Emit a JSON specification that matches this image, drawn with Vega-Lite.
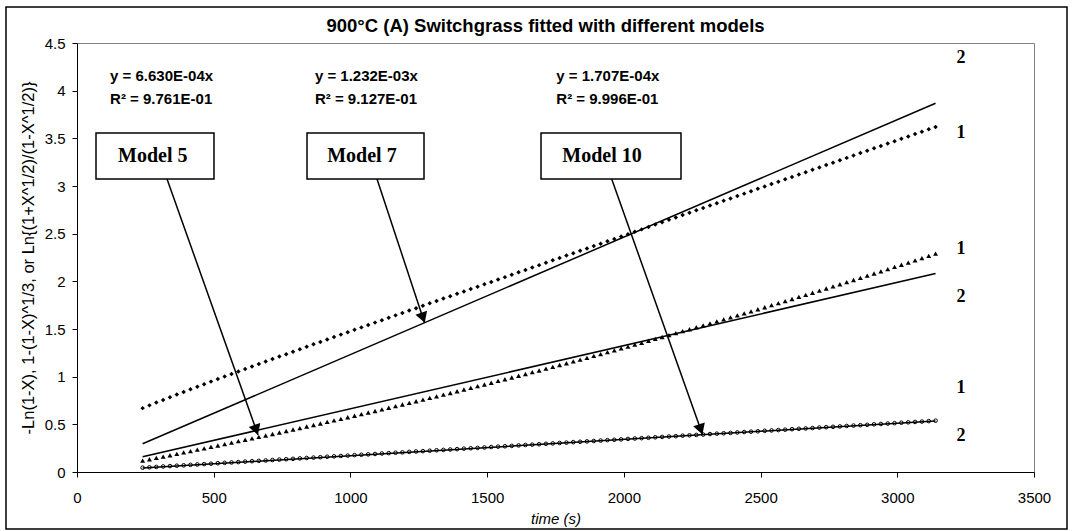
{
  "$schema": "https://vega.github.io/schema/vega-lite/v6.json",
  "width": 957,
  "height": 429,
  "autosize": {"type": "none"},
  "padding": {"left": 77, "top": 43, "right": 39, "bottom": 59},
  "background": "white",
  "title": {"text": "900°C (A) Switchgrass fitted with different models", "font": "Liberation Sans", "fontSize": 18.5, "fontWeight": "bold", "color": "black", "anchor": "middle", "offset": 7, "dx": -10, "dy": 36},
  "config": {
    "view": {"stroke": "#808080", "strokeWidth": 1},
    "axis": {"labelFont": "Liberation Sans", "labelFontSize": 15, "labelColor": "black", "domainColor": "black", "tickColor": "black", "titleFont": "Liberation Sans", "titleFontSize": 15, "titleFontWeight": "normal", "titleColor": "black", "grid": false, "domainWidth": 1, "tickWidth": 1, "tickSize": 5, "labelFlush": false}
  },
  "datasets": {
    "pts": [
      {"x":240,"a":0.670,"b":0.120,"c":0.045},{"x":265,"a":0.699,"b":0.134,"c":0.049},{"x":290,"a":0.728,"b":0.148,"c":0.053},{"x":315,"a":0.756,"b":0.162,"c":0.058},{"x":340,"a":0.784,"b":0.176,"c":0.062},{"x":365,"a":0.812,"b":0.190,"c":0.066},{"x":390,"a":0.840,"b":0.205,"c":0.070},{"x":415,"a":0.867,"b":0.219,"c":0.075},{"x":440,"a":0.894,"b":0.234,"c":0.079},{"x":465,"a":0.921,"b":0.248,"c":0.083},
      {"x":490,"a":0.948,"b":0.263,"c":0.087},{"x":515,"a":0.975,"b":0.278,"c":0.092},{"x":540,"a":1.002,"b":0.293,"c":0.096},{"x":565,"a":1.028,"b":0.308,"c":0.100},{"x":590,"a":1.054,"b":0.323,"c":0.104},{"x":615,"a":1.081,"b":0.338,"c":0.109},{"x":640,"a":1.107,"b":0.353,"c":0.113},{"x":665,"a":1.133,"b":0.368,"c":0.117},{"x":690,"a":1.159,"b":0.383,"c":0.121},{"x":715,"a":1.185,"b":0.399,"c":0.126},
      {"x":740,"a":1.211,"b":0.414,"c":0.130},{"x":765,"a":1.236,"b":0.430,"c":0.134},{"x":790,"a":1.262,"b":0.446,"c":0.138},{"x":815,"a":1.288,"b":0.461,"c":0.143},{"x":840,"a":1.313,"b":0.477,"c":0.147},{"x":865,"a":1.339,"b":0.493,"c":0.151},{"x":890,"a":1.364,"b":0.509,"c":0.155},{"x":915,"a":1.390,"b":0.525,"c":0.160},{"x":940,"a":1.415,"b":0.541,"c":0.164},{"x":965,"a":1.441,"b":0.558,"c":0.168},
      {"x":990,"a":1.466,"b":0.574,"c":0.172},{"x":1015,"a":1.491,"b":0.590,"c":0.177},{"x":1040,"a":1.517,"b":0.607,"c":0.181},{"x":1065,"a":1.542,"b":0.624,"c":0.185},{"x":1090,"a":1.567,"b":0.640,"c":0.189},{"x":1115,"a":1.592,"b":0.657,"c":0.194},{"x":1140,"a":1.618,"b":0.674,"c":0.198},{"x":1165,"a":1.643,"b":0.691,"c":0.202},{"x":1190,"a":1.668,"b":0.708,"c":0.206},{"x":1215,"a":1.693,"b":0.725,"c":0.211},
      {"x":1240,"a":1.718,"b":0.742,"c":0.215},{"x":1265,"a":1.743,"b":0.759,"c":0.219},{"x":1290,"a":1.769,"b":0.777,"c":0.223},{"x":1315,"a":1.794,"b":0.794,"c":0.228},{"x":1340,"a":1.819,"b":0.812,"c":0.232},{"x":1365,"a":1.844,"b":0.829,"c":0.236},{"x":1390,"a":1.869,"b":0.847,"c":0.240},{"x":1415,"a":1.894,"b":0.865,"c":0.245},{"x":1440,"a":1.919,"b":0.882,"c":0.249},{"x":1465,"a":1.944,"b":0.900,"c":0.253},
      {"x":1490,"a":1.969,"b":0.918,"c":0.257},{"x":1515,"a":1.994,"b":0.936,"c":0.262},{"x":1540,"a":2.019,"b":0.955,"c":0.266},{"x":1565,"a":2.044,"b":0.973,"c":0.270},{"x":1590,"a":2.069,"b":0.991,"c":0.274},{"x":1615,"a":2.095,"b":1.010,"c":0.279},{"x":1640,"a":2.120,"b":1.028,"c":0.283},{"x":1665,"a":2.145,"b":1.047,"c":0.287},{"x":1690,"a":2.170,"b":1.065,"c":0.291},{"x":1715,"a":2.195,"b":1.084,"c":0.296},
      {"x":1740,"a":2.220,"b":1.103,"c":0.300},{"x":1765,"a":2.245,"b":1.122,"c":0.304},{"x":1790,"a":2.270,"b":1.141,"c":0.308},{"x":1815,"a":2.295,"b":1.160,"c":0.313},{"x":1840,"a":2.320,"b":1.179,"c":0.317},{"x":1865,"a":2.345,"b":1.198,"c":0.321},{"x":1890,"a":2.370,"b":1.218,"c":0.325},{"x":1915,"a":2.395,"b":1.237,"c":0.330},{"x":1940,"a":2.420,"b":1.257,"c":0.334},{"x":1965,"a":2.445,"b":1.276,"c":0.338},
      {"x":1990,"a":2.470,"b":1.296,"c":0.342},{"x":2015,"a":2.495,"b":1.316,"c":0.347},{"x":2040,"a":2.520,"b":1.336,"c":0.351},{"x":2065,"a":2.545,"b":1.355,"c":0.355},{"x":2090,"a":2.570,"b":1.375,"c":0.359},{"x":2115,"a":2.595,"b":1.396,"c":0.364},{"x":2140,"a":2.620,"b":1.416,"c":0.368},{"x":2165,"a":2.645,"b":1.436,"c":0.372},{"x":2190,"a":2.670,"b":1.456,"c":0.376},{"x":2215,"a":2.695,"b":1.477,"c":0.381},
      {"x":2240,"a":2.720,"b":1.497,"c":0.385},{"x":2265,"a":2.745,"b":1.518,"c":0.389},{"x":2290,"a":2.770,"b":1.538,"c":0.393},{"x":2315,"a":2.795,"b":1.559,"c":0.398},{"x":2340,"a":2.820,"b":1.580,"c":0.402},{"x":2365,"a":2.845,"b":1.601,"c":0.406},{"x":2390,"a":2.870,"b":1.622,"c":0.410},{"x":2415,"a":2.895,"b":1.643,"c":0.415},{"x":2440,"a":2.920,"b":1.664,"c":0.419},{"x":2465,"a":2.945,"b":1.685,"c":0.423},
      {"x":2490,"a":2.970,"b":1.707,"c":0.427},{"x":2515,"a":2.995,"b":1.728,"c":0.432},{"x":2540,"a":3.020,"b":1.750,"c":0.436},{"x":2565,"a":3.045,"b":1.771,"c":0.440},{"x":2590,"a":3.070,"b":1.793,"c":0.444},{"x":2615,"a":3.095,"b":1.815,"c":0.449},{"x":2640,"a":3.120,"b":1.837,"c":0.453},{"x":2665,"a":3.145,"b":1.858,"c":0.457},{"x":2690,"a":3.170,"b":1.880,"c":0.461},{"x":2715,"a":3.195,"b":1.903,"c":0.466},
      {"x":2740,"a":3.220,"b":1.925,"c":0.470},{"x":2765,"a":3.245,"b":1.947,"c":0.474},{"x":2790,"a":3.270,"b":1.969,"c":0.478},{"x":2815,"a":3.295,"b":1.992,"c":0.483},{"x":2840,"a":3.320,"b":2.014,"c":0.487},{"x":2865,"a":3.345,"b":2.037,"c":0.491},{"x":2890,"a":3.370,"b":2.059,"c":0.495},{"x":2915,"a":3.395,"b":2.082,"c":0.500},{"x":2940,"a":3.420,"b":2.105,"c":0.504},{"x":2965,"a":3.445,"b":2.128,"c":0.508},
      {"x":2990,"a":3.470,"b":2.151,"c":0.512},{"x":3015,"a":3.495,"b":2.174,"c":0.517},{"x":3040,"a":3.520,"b":2.197,"c":0.521},{"x":3065,"a":3.545,"b":2.220,"c":0.525},{"x":3090,"a":3.570,"b":2.244,"c":0.529},{"x":3115,"a":3.595,"b":2.267,"c":0.534},{"x":3140,"a":3.620,"b":2.291,"c":0.538}
    ]
  },
  "encoding": {
    "x": {"field": "x", "type": "quantitative", "scale": {"domain": [0, 3500], "nice": false, "zero": false},
      "axis": {"values": [0, 500, 1000, 1500, 2000, 2500, 3000, 3500], "format": "d", "title": "time (s)", "titleFontStyle": "italic", "titleBaseline": "middle", "titleX": 478.5, "titleY": 46, "labelPadding": 13}},
    "y": {"field": "y", "type": "quantitative", "scale": {"domain": [0, 4.5], "nice": false, "zero": false},
      "axis": {"values": [0, 0.5, 1, 1.5, 2, 2.5, 3, 3.5, 4, 4.5], "format": "~g", "title": "-Ln(1-X), 1-(1-X)^1/3, or Ln{(1+X^1/2)/(1-X^1/2)}", "titleFontSize": 16.5, "titleAngle": -90, "titleBaseline": "middle", "titleAlign": "center", "titleX": -49, "titleY": 214.5, "labelPadding": 7}}
  },
  "layer": [
    {
      "data": {"values": [{"x": -259.7, "y": 4.878, "x2": 3620.7, "y2": -0.598}]},
      "mark": {"type": "rect", "filled": false, "stroke": "black", "strokeWidth": 1.5},
      "encoding": {"x2": {"field": "x2"}, "y2": {"field": "y2"}}
    },
    {
      "data": {"name": "pts"},
      "transform": [{"fold": ["a"], "as": ["s", "y"]}],
      "mark": {"type": "point", "shape": "diamond", "filled": true, "color": "black", "opacity": 1, "size": 20}
    },
    {
      "data": {"name": "pts"},
      "transform": [{"fold": ["b"], "as": ["s", "y"]}],
      "mark": {"type": "point", "shape": "triangle-up", "filled": true, "color": "black", "opacity": 1, "size": 25}
    },
    {
      "data": {"name": "pts"},
      "transform": [{"fold": ["c"], "as": ["s", "y"]}],
      "mark": {"type": "point", "shape": "circle", "filled": true, "fill": "white", "stroke": "black", "strokeWidth": 1, "opacity": 1, "size": 13}
    },
    {
      "data": {"values": [
        {"x": 240, "m": "5", "y": 0.159}, {"x": 3140, "m": "5", "y": 2.082},
        {"x": 240, "m": "7", "y": 0.296}, {"x": 3140, "m": "7", "y": 3.868},
        {"x": 240, "m": "10", "y": 0.041}, {"x": 3140, "m": "10", "y": 0.536}
      ]},
      "mark": {"type": "line", "color": "black", "strokeWidth": 1.5},
      "encoding": {"detail": {"field": "m"}}
    },
    {
      "data": {"values": [
        {"x": 329.2, "y": 3.073, "x2": 662, "y2": 0.388},
        {"x": 1097.2, "y": 3.073, "x2": 1271, "y2": 1.566},
        {"x": 1955.5, "y": 3.073, "x2": 2287.6, "y2": 0.394}
      ]},
      "mark": {"type": "rule", "color": "black", "strokeWidth": 1.5},
      "encoding": {"x2": {"field": "x2"}, "y2": {"field": "y2"}}
    },
    {
      "data": {"values": [{"x": 655.4, "y": 0.441}, {"x": 1265.4, "y": 1.619}, {"x": 2281.1, "y": 0.447}]},
      "mark": {"type": "point", "shape": "triangle-up", "angle": 161, "filled": true, "color": "black", "opacity": 1, "size": 150}
    },
    {
      "data": {"values": [
        {"x": 69.5, "x2": 501, "y": 3.556, "y2": 3.073},
        {"x": 841.2, "x2": 1269.1, "y": 3.556, "y2": 3.073},
        {"x": 1697, "x2": 2209, "y": 3.556, "y2": 3.073}
      ]},
      "mark": {"type": "rect", "fill": "white", "stroke": "black", "strokeWidth": 1.5},
      "encoding": {"x2": {"field": "x2"}, "y2": {"field": "y2"}}
    },
    {
      "data": {"values": [
        {"x": 277, "y": 3.31, "txt": "Model 5"},
        {"x": 1042, "y": 3.31, "txt": "Model 7"},
        {"x": 1920, "y": 3.31, "txt": "Model 10"}
      ]},
      "mark": {"type": "text", "font": "Liberation Serif", "fontSize": 20, "fontWeight": "bold", "color": "black", "align": "center", "baseline": "middle"},
      "encoding": {"text": {"field": "txt"}}
    },
    {
      "data": {"values": [
        {"x": 121, "y": 4.154, "txt": "y = 6.630E-04x"},
        {"x": 121, "y": 3.913, "txt": "R² = 9.761E-01"},
        {"x": 870, "y": 4.154, "txt": "y = 1.232E-03x"},
        {"x": 870, "y": 3.913, "txt": "R² = 9.127E-01"},
        {"x": 1753, "y": 4.154, "txt": "y = 1.707E-04x"},
        {"x": 1753, "y": 3.913, "txt": "R² = 9.996E-01"}
      ]},
      "mark": {"type": "text", "font": "Liberation Sans", "fontSize": 15, "fontWeight": "bold", "color": "black", "align": "left", "baseline": "middle"},
      "encoding": {"text": {"field": "txt"}}
    },
    {
      "data": {"values": [
        {"x": 3233, "y": 4.34, "txt": "2"},
        {"x": 3233, "y": 3.56, "txt": "1"},
        {"x": 3233, "y": 2.34, "txt": "1"},
        {"x": 3233, "y": 1.836, "txt": "2"},
        {"x": 3233, "y": 0.881, "txt": "1"},
        {"x": 3233, "y": 0.378, "txt": "2"}
      ]},
      "mark": {"type": "text", "font": "Liberation Serif", "fontSize": 18, "fontWeight": "bold", "color": "black", "align": "center", "baseline": "middle"},
      "encoding": {"text": {"field": "txt"}}
    }
  ]
}
